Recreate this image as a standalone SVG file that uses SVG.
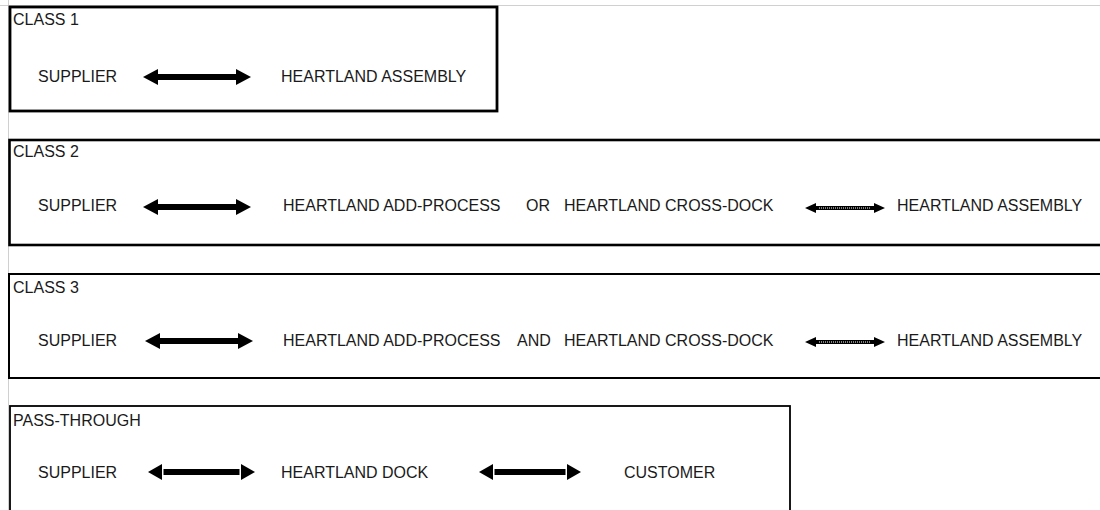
<svg xmlns="http://www.w3.org/2000/svg" width="1100" height="510" viewBox="0 0 1100 510">
<style>
  text { font-family: "Liberation Sans", Arial, sans-serif; font-size: 16px; fill: #1a1a1a; }
  .frame { fill: none; stroke: #000; }
  .guide { stroke: #d0d0d0; stroke-width: 1; fill: none; }
  .arrow { fill: #000; }
  .dots { stroke: #fff; stroke-width: 1; stroke-dasharray: 1 1; fill: none; }
</style>
<defs>
  <!-- thick double arrow, length 108 -->
  <polygon id="thick" class="arrow" points="0,0 15,-8 15,-3 93,-3 93,-8 108,0 93,8 93,3 15,3 15,8"/>
  <!-- thin dotted double arrow, length 80 -->
  <g id="thin">
    <polygon class="arrow" points="0,0 11,-5 11,-2 69,-2 69,-5 80,0 69,5 69,2 11,2 11,5"/>
    <line class="dots" x1="14" y1="0" x2="66" y2="0"/>
  </g>
  <!-- pass-through arrows with a gap at the head base -->
  <g id="pass1">
    <polygon class="arrow" points="0,0 14,-8 14,8"/>
    <rect class="arrow" x="15.5" y="-3" width="76" height="6"/>
    <polygon class="arrow" points="107,0 93,-8 93,8"/>
  </g>
  <g id="pass2">
    <polygon class="arrow" points="0,0 14,-8 14,8"/>
    <rect class="arrow" x="15.5" y="-3" width="71" height="6"/>
    <polygon class="arrow" points="102,0 88,-8 88,8"/>
  </g>
</defs>

<g id="guides">
  <line class="guide" x1="0" y1="5.5" x2="1100" y2="5.5"/>
  <line class="guide" x1="8.5" y1="0" x2="8.5" y2="510"/>
</g>

<g id="class1">
  <rect class="frame" x="10" y="7" width="487" height="104" stroke-width="2.8"/>
  <text x="13" y="25">CLASS 1</text>
  <text x="38" y="82">SUPPLIER</text>
  <text x="281" y="82">HEARTLAND ASSEMBLY</text>
</g>

<g id="class2">
  <rect class="frame" x="9.5" y="140" width="1100" height="105" stroke-width="2.6"/>
  <text x="13" y="157">CLASS 2</text>
  <text x="38" y="211">SUPPLIER</text>
  <text x="283" y="211">HEARTLAND ADD-PROCESS</text>
  <text x="526" y="211">OR</text>
  <text x="564" y="211">HEARTLAND CROSS-DOCK</text>
  <text x="897" y="211">HEARTLAND ASSEMBLY</text>
</g>

<g id="class3">
  <rect class="frame" x="9" y="274" width="1100" height="104" stroke-width="2" stroke="#555"/>
  <text x="13" y="293">CLASS 3</text>
  <text x="38" y="346">SUPPLIER</text>
  <text x="283" y="346">HEARTLAND ADD-PROCESS</text>
  <text x="517" y="346">AND</text>
  <text x="564" y="346">HEARTLAND CROSS-DOCK</text>
  <text x="897" y="346">HEARTLAND ASSEMBLY</text>
</g>

<g id="passthrough">
  <rect class="frame" x="10" y="406" width="780" height="120" stroke-width="1.8"/>
  <text x="13" y="426">PASS-THROUGH</text>
  <text x="38" y="478">SUPPLIER</text>
  <text x="281" y="478">HEARTLAND DOCK</text>
  <text x="624" y="478">CUSTOMER</text>
</g>

<g id="connectors">
  <use href="#thick" x="143" y="77"/>
  <use href="#thick" x="143" y="207"/>
  <use href="#thin" x="805" y="208"/>
  <use href="#thick" x="145" y="341"/>
  <use href="#thin" x="805" y="342"/>
  <use href="#pass1" x="148" y="472"/>
  <use href="#pass2" x="479" y="472"/>
</g>
</svg>
